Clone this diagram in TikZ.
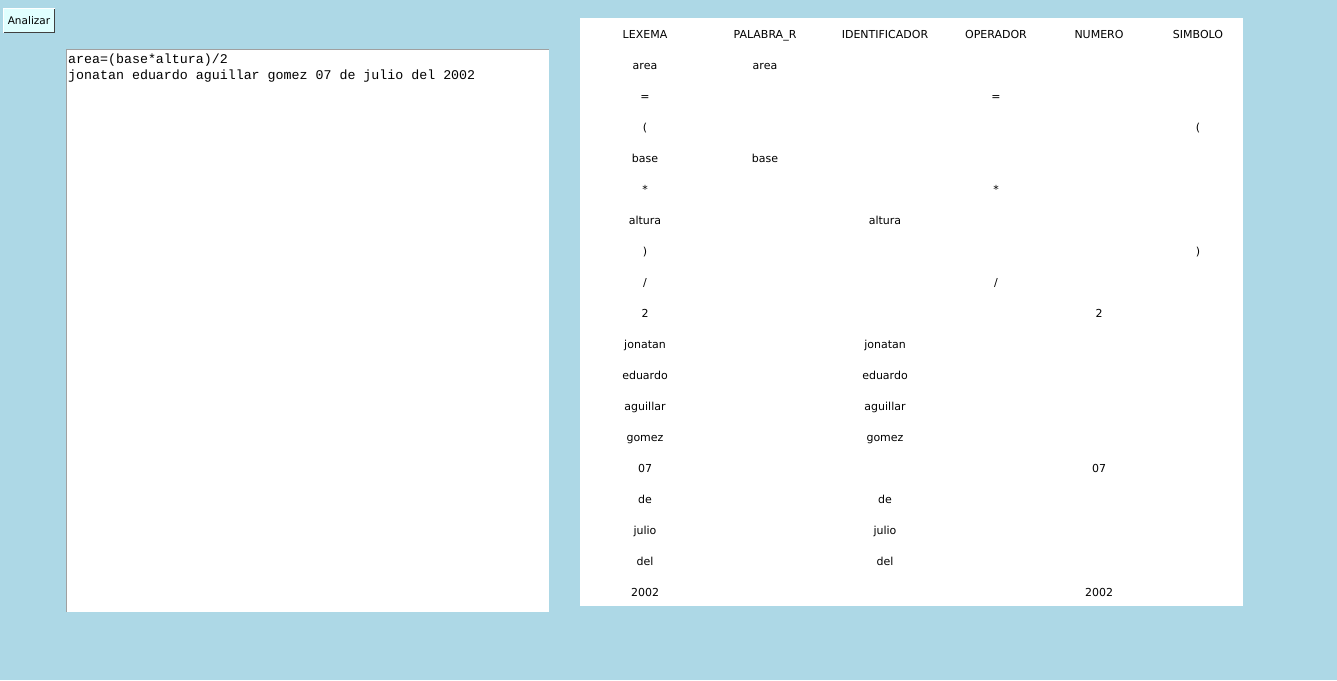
\documentclass[tikz,border=0pt]{standalone}
\usepackage{fontspec}
\setmainfont{DejaVu Sans}
\setmonofont{Liberation Mono}
\newcommand{\lexrow}[3]{%
  \node[cell] (a#1) at (645,{38+31*#1}) {#2};
  \node[cell] (b#1) at (#3,{38+31*#1}) {#2};}
\begin{document}
\begin{tikzpicture}[x=1pt,y=-1pt,
  cell/.style={inner sep=0pt,anchor=base,font=\fontsize{11}{13}\selectfont},
  codeline/.style={inner sep=0pt,anchor=base west,font=\ttfamily\fontsize{13.3}{16}\selectfont}]
\definecolor{bg}{HTML}{ADD8E6}
\definecolor{btn}{HTML}{E0FFFF}
\definecolor{areaborder}{HTML}{A0A0A0}
\fill[bg] (0,0) rectangle (1337,680);
\useasboundingbox (0,0) rectangle (1337,680);
% button
\fill[btn] (3,8) rectangle (55,33);
\draw[white,line width=1pt] (3.5,32.5) -- (3.5,8.5) -- (54.5,8.5);
\draw[black!75,line width=1pt] (3.5,32.5) -- (54.5,32.5) -- (54.5,8.5);
\node[cell,font=\fontsize{10.5}{12}\selectfont] (btn) at (29,24.5) {Analizar};
% text area
\fill[white] (66,49) rectangle (549,612);
\draw[areaborder,line width=1pt] (66.5,612) -- (66.5,49.5) -- (549,49.5);
\node[codeline] (l1) at (68,63) {area=(base*altura)/2};
\node[codeline] (l2) at (68,79) {jonatan eduardo aguillar gomez 07 de julio del 2002};
% table
\fill[white] (580,18) rectangle (1243,606);
\node[cell] (h1) at (645,38) {LEXEMA};
\node[cell] (h2) at (765,38) {PALABRA\_R};
\node[cell] (h3) at (885,38) {IDENTIFICADOR};
\node[cell] (h4) at (996,38) {OPERADOR};
\node[cell] (h5) at (1099,38) {NUMERO};
\node[cell] (h6) at (1198,38) {SIMBOLO};
\lexrow{1}{area}{765}
\lexrow{2}{=}{996}
\lexrow{3}{(}{1198}
\lexrow{4}{base}{765}
\lexrow{5}{*}{996}
\lexrow{6}{altura}{885}
\lexrow{7}{)}{1198}
\lexrow{8}{/}{996}
\lexrow{9}{2}{1099}
\lexrow{10}{jonatan}{885}
\lexrow{11}{eduardo}{885}
\lexrow{12}{aguillar}{885}
\lexrow{13}{gomez}{885}
\lexrow{14}{07}{1099}
\lexrow{15}{de}{885}
\lexrow{16}{julio}{885}
\lexrow{17}{del}{885}
\lexrow{18}{2002}{1099}
\end{tikzpicture}
\end{document}
